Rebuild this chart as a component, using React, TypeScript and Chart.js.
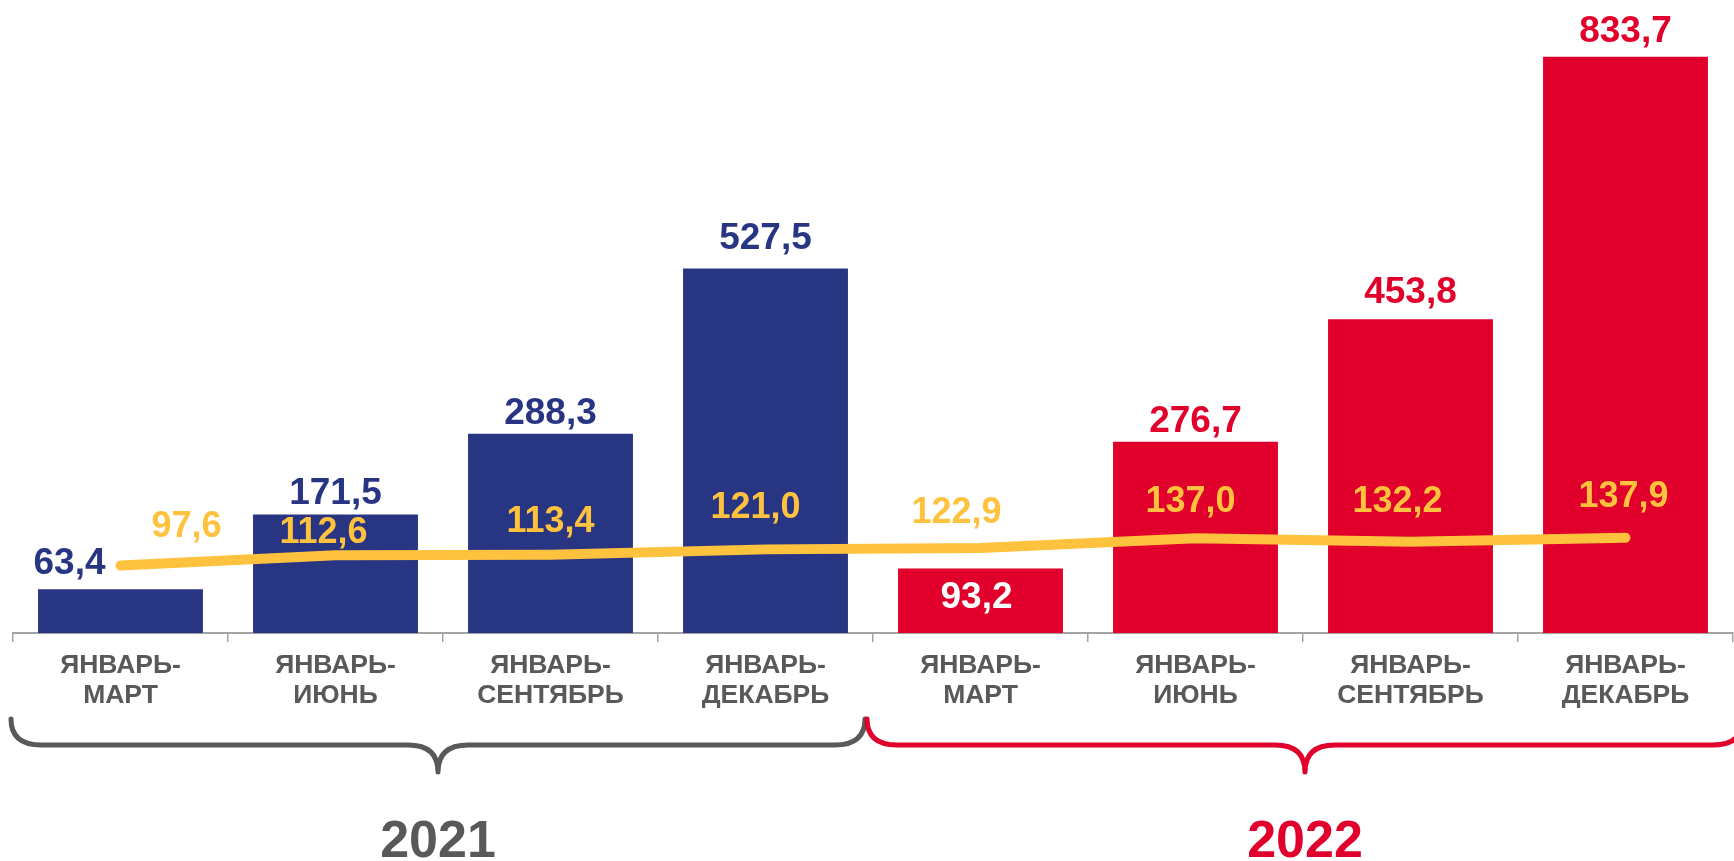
import React, { useEffect, useRef } from "react";
import { Chart, registerables } from "chart.js";

Chart.register(...registerables);

const CATEGORIES: string[][] = [
  ["ЯНВАРЬ-", "МАРТ"],
  ["ЯНВАРЬ-", "ИЮНЬ"],
  ["ЯНВАРЬ-", "СЕНТЯБРЬ"],
  ["ЯНВАРЬ-", "ДЕКАБРЬ"],
  ["ЯНВАРЬ-", "МАРТ"],
  ["ЯНВАРЬ-", "ИЮНЬ"],
  ["ЯНВАРЬ-", "СЕНТЯБРЬ"],
  ["ЯНВАРЬ-", "ДЕКАБРЬ"],
];
const BAR_VALUES: number[] = [63.4, 171.5, 288.3, 527.5, 93.2, 276.7, 453.8, 833.7];
const LINE_VALUES: number[] = [97.6, 112.6, 113.4, 121.0, 122.9, 137.0, 132.2, 137.9];
const YEARS: string[] = ["2021", "2022"];
const YEAR_GROUPS: number[][] = [
  [0, 3],
  [4, 7],
];

const FONT = "'Liberation Sans', Arial, sans-serif";
const BLUE = "#283583";
const RED = "#E0002B";
const YELLOW = "#FFC23E";
const GREY_TEXT = "#595959";
const AXIS_GREY = "#A3A3A3";
const YEAR_COLORS = [GREY_TEXT, RED];
const BAR_COLORS = BAR_VALUES.map((_, i) => (i < 4 ? BLUE : RED));

// label placement tweaks (style, not data)
const BAR_LABEL_GAPS: number[] = [15, 10, 10, 19, -39, 10, 16, 15];
const BAR_LABEL_DX: number[] = [-51, 0, 0, 0, -4, 0, 0, 0];
const LINE_LABEL_OFFSETS: number[][] = [
  [66, -38],
  [-12, -22],
  [0, -33],
  [-10, -41],
  [-24, -35],
  [-5, -36],
  [-13, -40],
  [-2, -41],
];

const fmt = (v: number) => v.toFixed(1).replace(".", ",");

const labelsPlugin = {
  id: "valueLabels",
  afterDatasetsDraw(chart: any) {
    const ctx = chart.ctx;
    ctx.save();
    ctx.font = `bold 37px ${FONT}`;
    ctx.textAlign = "center";
    const barMeta = chart.getDatasetMeta(0);
    ctx.textBaseline = "alphabetic";
    barMeta.data.forEach((el: any, i: number) => {
      const gap = BAR_LABEL_GAPS[i];
      const inside = gap < 0;
      ctx.fillStyle = inside ? "#FFFFFF" : i < 4 ? BLUE : RED;
      ctx.fillText(fmt(BAR_VALUES[i]), el.x + BAR_LABEL_DX[i], el.y - gap);
    });
    const lineMeta = chart.getDatasetMeta(1);
    ctx.font = `bold 36px ${FONT}`;
    ctx.textBaseline = "middle";
    ctx.fillStyle = YELLOW;
    lineMeta.data.forEach((el: any, i: number) => {
      const [dx, dy] = LINE_LABEL_OFFSETS[i];
      ctx.fillText(fmt(LINE_VALUES[i]), el.x + dx, el.y + dy);
    });
    ctx.restore();
  },
};

const bracketPlugin = {
  id: "yearBrackets",
  afterDraw(chart: any) {
    const ctx = chart.ctx;
    const xs = chart.scales.x;
    const half = (xs.getPixelForValue(1) - xs.getPixelForValue(0)) / 2;
    const yTop = 719;
    const yMid = 745;
    const yBot = 772;
    const r = 30;
    const ends = [
      [-2, -8],
      [-6, 10],
    ];
    ctx.save();
    YEAR_GROUPS.forEach((g, k) => {
      const x0 = xs.getPixelForValue(g[0]) - half + ends[k][0];
      const x1 = xs.getPixelForValue(g[1]) + half + ends[k][1];
      const cx = (x0 + x1) / 2;
      ctx.strokeStyle = YEAR_COLORS[k];
      ctx.lineWidth = 5;
      ctx.lineCap = "round";
      ctx.lineJoin = "round";
      ctx.beginPath();
      ctx.moveTo(x0, yTop);
      ctx.quadraticCurveTo(x0, yMid, x0 + r, yMid);
      ctx.lineTo(cx - r, yMid);
      ctx.quadraticCurveTo(cx, yMid, cx, yBot);
      ctx.quadraticCurveTo(cx, yMid, cx + r, yMid);
      ctx.lineTo(x1 - r, yMid);
      ctx.quadraticCurveTo(x1, yMid, x1, yTop);
      ctx.stroke();
      ctx.fillStyle = YEAR_COLORS[k];
      ctx.font = `bold 52px ${FONT}`;
      ctx.textAlign = "center";
      ctx.textBaseline = "alphabetic";
      ctx.fillText(YEARS[k], cx, 857);
    });
    ctx.restore();
  },
};

export default function App() {
  const canvasRef = useRef<HTMLCanvasElement | null>(null);

  useEffect(() => {
    const canvas = canvasRef.current;
    if (!canvas) return;
    const chart = new Chart(canvas, {
      type: "bar",
      data: {
        labels: CATEGORIES,
        datasets: [
          {
            type: "bar",
            data: BAR_VALUES,
            backgroundColor: BAR_COLORS,
            borderWidth: 0,
            barPercentage: 0.767,
            categoryPercentage: 1,
            order: 2,
          } as any,
          {
            type: "line",
            data: LINE_VALUES,
            borderColor: YELLOW,
            borderWidth: 10,
            borderCapStyle: "round",
            borderJoinStyle: "round",
            pointRadius: 0,
            pointHoverRadius: 0,
            tension: 0,
            fill: false,
            order: 1,
          } as any,
        ],
      },
      options: {
        responsive: false,
        animation: false,
        events: [],
        layout: { padding: { left: 13, right: 1, top: 11, bottom: 0 } },
        plugins: {
          legend: { display: false },
          tooltip: { enabled: false },
          title: { display: false },
        },
        scales: {
          x: {
            type: "category",
            offset: true,
            grid: {
              offset: true,
              drawOnChartArea: false,
              drawTicks: true,
              tickLength: 9,
              color: AXIS_GREY,
              lineWidth: 1.5,
            },
            border: { display: true, color: AXIS_GREY, width: 2 },
            ticks: {
              autoSkip: false,
              maxRotation: 0,
              minRotation: 0,
              padding: 9,
              color: GREY_TEXT,
              font: { family: FONT, size: 26.5, weight: "bold", lineHeight: 30 / 26.5 },
            },
            afterFit: (scale: any) => {
              scale.height = 228;
            },
          },
          y: {
            display: false,
            min: 0,
            max: 900,
          },
        },
      } as any,
      plugins: [labelsPlugin, bracketPlugin],
    });
    return () => chart.destroy();
  }, []);

  return (
    <div style={{ position: "absolute", left: 0, top: 0, width: 1734, height: 861, background: "#FFFFFF" }}>
      <canvas ref={canvasRef} width={1734} height={861} style={{ width: 1734, height: 861, display: "block" }} />
    </div>
  );
}
